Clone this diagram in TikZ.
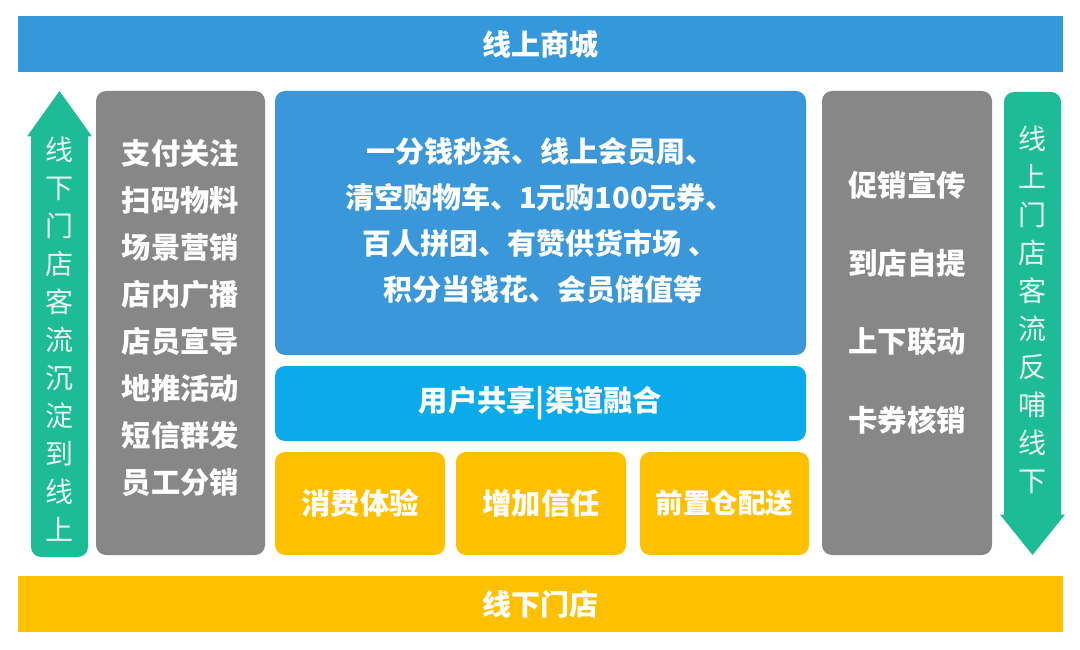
\documentclass[tikz,border=0pt]{standalone}
\usepackage{fontspec}
\setmainfont{Noto Sans CJK SC}
\definecolor{topblue}{HTML}{3498DB}
\definecolor{midblue}{HTML}{3A97DA}
\definecolor{boxgray}{HTML}{878787}
\definecolor{cyanbar}{HTML}{0BAAEA}
\definecolor{orangebox}{HTML}{FFC000}
\definecolor{arrgreen}{HTML}{1DBC97}
\definecolor{arrtext}{HTML}{E8F8F2}
\tikzset{
  panel/.style={inner sep=0pt, rounded corners=10pt, text=white, align=center, font=\bfseries\fontsize{29.3}{47}\selectfont},
  barbox/.style={inner sep=0pt, text=white, align=center, font=\bfseries\fontsize{29}{32}\selectfont},
  vtext/.style={inner sep=0pt, text=arrtext, align=center, font=\fontsize{28}{38}\selectfont}
}
\begin{document}
\begin{tikzpicture}[x=1pt,y=-1pt]
\useasboundingbox (0,0) rectangle (1080,650);
\fill[white] (0,0) rectangle (1080,650);

% top and bottom bars
\node[barbox, fill=topblue, minimum width=1045pt, minimum height=56pt] (top) at (540.5,44) {线上商城};
\node[barbox, fill=orangebox, minimum width=1045pt, minimum height=56pt] (bottom) at (540.5,604) {线下门店};

% left gray panel
\node[panel, fill=boxgray, minimum width=169pt, minimum height=464pt] (lgray) at (180.5,323) {};
\node[panel, font=\bfseries\fontsize{29.3}{47}\selectfont] (lgtext) at (180.5,318)
  {支付关注\\扫码物料\\场景营销\\店内广播\\店员宣导\\地推活动\\短信群发\\员工分销};

% right gray panel
\node[panel, fill=boxgray, minimum width=170pt, minimum height=464pt] (rgray) at (907,323) {};
\node[panel, font=\bfseries\fontsize{29.5}{78.3}\selectfont] (rgtext) at (907,302.5)
  {促销宣传\\到店自提\\上下联动\\卡券核销};

% center blue
\node[panel, fill=midblue, minimum width=531pt, minimum height=264pt] (cblue) at (540.5,223) {};
\node[panel, font=\bfseries\fontsize{29}{46}\selectfont] (cbtext) at (540,221)
  {一分钱秒杀、线上会员周、\\清空购物车、1元购100元券、\\百人拼团、有赞供货市场 、\\\ 积分当钱花、会员储值等};

% cyan bar
\node[panel, fill=cyanbar, minimum width=531pt, minimum height=75pt] (cyan) at (540.5,403.5) {用户共享|渠道融合};

% orange boxes
\node[panel, fill=orangebox, minimum width=170pt, minimum height=103pt] (o1) at (360,503.5) {消费体验};
\node[panel, fill=orangebox, minimum width=170pt, minimum height=103pt] (o2) at (541,503.5) {增加信任};
\node[panel, fill=orangebox, minimum width=169pt, minimum height=103pt, font=\bfseries\fontsize{27.5}{30}\selectfont] (o3) at (724.5,503.5) {前置仓配送};

% left arrow (up)
\begin{scope}
  \clip (0,136) rectangle (130,600);
  \fill[arrgreen, rounded corners=10pt] (31,100) rectangle (88,557);
\end{scope}
\fill[arrgreen] (59.5,91) -- (92,136.5) -- (27,136.5) -- cycle;
\node[vtext] (ltext) at (59.5,339) {线\\下\\门\\店\\客\\流\\沉\\淀\\到\\线\\上};

% right arrow (down)
\begin{scope}
  \clip (950,0) rectangle (1080,515);
  \fill[arrgreen, rounded corners=10pt] (1004,92) rectangle (1061,560);
\end{scope}
\fill[arrgreen] (1000,514.5) -- (1065,514.5) -- (1032.5,555) -- cycle;
\node[vtext] (rtext) at (1032.5,310) {线\\上\\门\\店\\客\\流\\反\\哺\\线\\下};
\end{tikzpicture}
\end{document}
